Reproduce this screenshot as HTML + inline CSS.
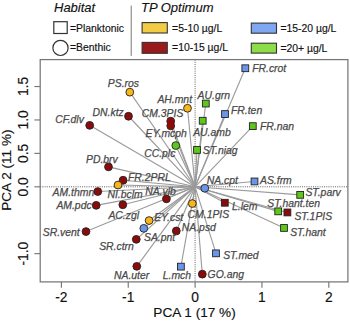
<!DOCTYPE html>
<html><head><meta charset="utf-8"><style>
html,body{margin:0;padding:0;background:#fff;}
body{width:350px;height:322px;overflow:hidden;}
svg{display:block;}
text{font-family:"Liberation Sans",sans-serif;}
.lb{font-size:10.4px;font-style:italic;fill:#4a4a4a;stroke:#4a4a4a;stroke-width:0.25px;}
.tk{font-size:13.8px;fill:#111;stroke:#111;stroke-width:0.15px;}
.tt{font-size:13.6px;fill:#111;stroke:#111;stroke-width:0.15px;}
.lh{font-size:13px;font-style:italic;fill:#111;stroke:#111;stroke-width:0.15px;}
.lt{font-size:10.4px;fill:#111;stroke:#111;stroke-width:0.15px;}
</style></head><body>
<svg width="350" height="322" viewBox="0 0 350 322">
<line x1="195.1" y1="59.6" x2="195.1" y2="281.9" stroke="#666" stroke-width="1" stroke-dasharray="1.05 1.15"/>
<line x1="40.2" y1="186.8" x2="347.9" y2="186.8" stroke="#666" stroke-width="1" stroke-dasharray="1.05 1.15"/>
<line x1="195.1" y1="186.8" x2="245.3" y2="68.25" stroke="#9a9a9a" stroke-width="1.1"/>
<line x1="195.1" y1="186.8" x2="205.8" y2="103.55" stroke="#9a9a9a" stroke-width="1.1"/>
<line x1="195.1" y1="186.8" x2="202.7" y2="120.75" stroke="#9a9a9a" stroke-width="1.1"/>
<line x1="195.1" y1="186.8" x2="225.0" y2="114.05" stroke="#9a9a9a" stroke-width="1.1"/>
<line x1="195.1" y1="186.8" x2="252.8" y2="126.15" stroke="#9a9a9a" stroke-width="1.1"/>
<line x1="195.1" y1="186.8" x2="197.0" y2="149.95" stroke="#9a9a9a" stroke-width="1.1"/>
<line x1="195.1" y1="186.8" x2="129.8" y2="92.15" stroke="#9a9a9a" stroke-width="1.1"/>
<line x1="195.1" y1="186.8" x2="187.5" y2="108.25" stroke="#9a9a9a" stroke-width="1.1"/>
<line x1="195.1" y1="186.8" x2="128.5" y2="116.25" stroke="#9a9a9a" stroke-width="1.1"/>
<line x1="195.1" y1="186.8" x2="89.7" y2="125.35" stroke="#9a9a9a" stroke-width="1.1"/>
<line x1="195.1" y1="186.8" x2="170.7" y2="121.15" stroke="#9a9a9a" stroke-width="1.1"/>
<line x1="195.1" y1="186.8" x2="170.7" y2="125.85" stroke="#9a9a9a" stroke-width="1.1"/>
<line x1="195.1" y1="186.8" x2="175.8" y2="145.55" stroke="#9a9a9a" stroke-width="1.1"/>
<line x1="195.1" y1="186.8" x2="108.5" y2="166.85" stroke="#9a9a9a" stroke-width="1.1"/>
<line x1="195.1" y1="186.8" x2="123.1" y2="180.25" stroke="#9a9a9a" stroke-width="1.1"/>
<line x1="195.1" y1="186.8" x2="118.0" y2="185.05" stroke="#9a9a9a" stroke-width="1.1"/>
<line x1="195.1" y1="186.8" x2="122.8" y2="204.75" stroke="#9a9a9a" stroke-width="1.1"/>
<line x1="195.1" y1="186.8" x2="97.8" y2="191.55" stroke="#9a9a9a" stroke-width="1.1"/>
<line x1="195.1" y1="186.8" x2="96.2" y2="205.35" stroke="#9a9a9a" stroke-width="1.1"/>
<line x1="195.1" y1="186.8" x2="166.4" y2="198.85" stroke="#9a9a9a" stroke-width="1.1"/>
<line x1="195.1" y1="186.8" x2="192.3" y2="203.55" stroke="#9a9a9a" stroke-width="1.1"/>
<line x1="195.1" y1="186.8" x2="149.1" y2="220.55" stroke="#9a9a9a" stroke-width="1.1"/>
<line x1="195.1" y1="186.8" x2="143.8" y2="228.35" stroke="#9a9a9a" stroke-width="1.1"/>
<line x1="195.1" y1="186.8" x2="136.3" y2="239.35" stroke="#9a9a9a" stroke-width="1.1"/>
<line x1="195.1" y1="186.8" x2="176.3" y2="230.95" stroke="#9a9a9a" stroke-width="1.1"/>
<line x1="195.1" y1="186.8" x2="86.0" y2="231.55" stroke="#9a9a9a" stroke-width="1.1"/>
<line x1="195.1" y1="186.8" x2="136.8" y2="266.35" stroke="#9a9a9a" stroke-width="1.1"/>
<line x1="195.1" y1="186.8" x2="180.9" y2="266.65" stroke="#9a9a9a" stroke-width="1.1"/>
<line x1="195.1" y1="186.8" x2="202.3" y2="274.15" stroke="#9a9a9a" stroke-width="1.1"/>
<line x1="195.1" y1="186.8" x2="216.0" y2="253.35" stroke="#9a9a9a" stroke-width="1.1"/>
<line x1="195.1" y1="186.8" x2="224.8" y2="202.75" stroke="#9a9a9a" stroke-width="1.1"/>
<line x1="195.1" y1="186.8" x2="204.8" y2="188.25" stroke="#9a9a9a" stroke-width="1.1"/>
<line x1="195.1" y1="186.8" x2="254.5" y2="181.45" stroke="#9a9a9a" stroke-width="1.1"/>
<line x1="195.1" y1="186.8" x2="300.2" y2="194.85" stroke="#9a9a9a" stroke-width="1.1"/>
<line x1="195.1" y1="186.8" x2="278.2" y2="211.35" stroke="#9a9a9a" stroke-width="1.1"/>
<line x1="195.1" y1="186.8" x2="287.4" y2="212.45" stroke="#9a9a9a" stroke-width="1.1"/>
<line x1="195.1" y1="186.8" x2="284.0" y2="227.95" stroke="#9a9a9a" stroke-width="1.1"/>
<rect x="241.90" y="64.85" width="6.8" height="6.8" fill="#6A95E8" stroke="#222" stroke-width="0.9"/>
<rect x="202.40" y="100.15" width="6.8" height="6.8" fill="#5CC81C" stroke="#222" stroke-width="0.9"/>
<rect x="199.30" y="117.35" width="6.8" height="6.8" fill="#5CC81C" stroke="#222" stroke-width="0.9"/>
<rect x="221.60" y="110.65" width="6.8" height="6.8" fill="#6A95E8" stroke="#222" stroke-width="0.9"/>
<rect x="249.40" y="122.75" width="6.8" height="6.8" fill="#5CC81C" stroke="#222" stroke-width="0.9"/>
<rect x="193.60" y="146.55" width="6.8" height="6.8" fill="#5CC81C" stroke="#222" stroke-width="0.9"/>
<circle cx="129.8" cy="92.14999999999999" r="3.9" fill="#F8B61A" stroke="#222" stroke-width="0.9"/>
<circle cx="187.5" cy="108.25" r="3.9" fill="#F8B61A" stroke="#222" stroke-width="0.9"/>
<circle cx="128.5" cy="116.25" r="3.9" fill="#8B0B0B" stroke="#222" stroke-width="0.9"/>
<circle cx="89.7" cy="125.35" r="3.9" fill="#8B0B0B" stroke="#222" stroke-width="0.9"/>
<circle cx="170.7" cy="121.14999999999999" r="3.9" fill="#8B0B0B" stroke="#222" stroke-width="0.9"/>
<circle cx="170.7" cy="125.85" r="3.9" fill="#8B0B0B" stroke="#222" stroke-width="0.9"/>
<circle cx="175.8" cy="145.54999999999998" r="3.9" fill="#5CC81C" stroke="#222" stroke-width="0.9"/>
<circle cx="108.5" cy="166.85" r="3.9" fill="#8B0B0B" stroke="#222" stroke-width="0.9"/>
<circle cx="123.1" cy="180.25" r="3.9" fill="#8B0B0B" stroke="#222" stroke-width="0.9"/>
<circle cx="118.0" cy="185.04999999999998" r="3.9" fill="#F8B61A" stroke="#222" stroke-width="0.9"/>
<circle cx="122.8" cy="204.75" r="3.9" fill="#8B0B0B" stroke="#222" stroke-width="0.9"/>
<circle cx="97.8" cy="191.54999999999998" r="3.9" fill="#8B0B0B" stroke="#222" stroke-width="0.9"/>
<circle cx="96.2" cy="205.35" r="3.9" fill="#8B0B0B" stroke="#222" stroke-width="0.9"/>
<circle cx="166.4" cy="198.85" r="3.9" fill="#8B0B0B" stroke="#222" stroke-width="0.9"/>
<circle cx="192.3" cy="203.54999999999998" r="3.9" fill="#F8B61A" stroke="#222" stroke-width="0.9"/>
<circle cx="149.1" cy="220.54999999999998" r="3.9" fill="#F8B61A" stroke="#222" stroke-width="0.9"/>
<circle cx="143.8" cy="228.35" r="3.9" fill="#6A95E8" stroke="#222" stroke-width="0.9"/>
<circle cx="136.3" cy="239.35" r="3.9" fill="#8B0B0B" stroke="#222" stroke-width="0.9"/>
<circle cx="176.3" cy="230.95" r="3.9" fill="#8B0B0B" stroke="#222" stroke-width="0.9"/>
<circle cx="86.0" cy="231.54999999999998" r="3.9" fill="#8B0B0B" stroke="#222" stroke-width="0.9"/>
<circle cx="136.8" cy="266.35" r="3.9" fill="#8B0B0B" stroke="#222" stroke-width="0.9"/>
<rect x="177.50" y="263.25" width="6.8" height="6.8" fill="#6A95E8" stroke="#222" stroke-width="0.9"/>
<circle cx="202.3" cy="274.15000000000003" r="3.9" fill="#8B0B0B" stroke="#222" stroke-width="0.9"/>
<rect x="212.60" y="249.95" width="6.8" height="6.8" fill="#6A95E8" stroke="#222" stroke-width="0.9"/>
<rect x="221.40" y="199.35" width="6.8" height="6.8" fill="#8B0B0B" stroke="#222" stroke-width="0.9"/>
<circle cx="204.8" cy="188.25" r="3.9" fill="#6A95E8" stroke="#222" stroke-width="0.9"/>
<rect x="251.10" y="178.05" width="6.8" height="6.8" fill="#6A95E8" stroke="#222" stroke-width="0.9"/>
<rect x="296.80" y="191.45" width="6.8" height="6.8" fill="#5CC81C" stroke="#222" stroke-width="0.9"/>
<rect x="274.80" y="207.95" width="6.8" height="6.8" fill="#5CC81C" stroke="#222" stroke-width="0.9"/>
<rect x="284.00" y="209.05" width="6.8" height="6.8" fill="#8B0B0B" stroke="#222" stroke-width="0.9"/>
<rect x="280.60" y="224.55" width="6.8" height="6.8" fill="#5CC81C" stroke="#222" stroke-width="0.9"/>
<circle cx="170.7" cy="121.15" r="3.45" fill="#8B0B0B"/>
<circle cx="170.7" cy="125.85" r="3.45" fill="#8B0B0B"/>
<text x="252.2" y="71.65" class="lb">FR.crot</text>
<text x="197.6" y="98.95" class="lb">AU.grn</text>
<text x="193.2" y="135.65" class="lb">AU.amb</text>
<text x="231.0" y="114.35" class="lb">FR.ten</text>
<text x="260.0" y="130.35" class="lb">FR.nan</text>
<text x="202.8" y="153.65" class="lb">ST.niag</text>
<text x="107.8" y="86.55" class="lb">PS.ros</text>
<text x="157.4" y="102.55" class="lb">AH.mnt</text>
<text x="92.6" y="115.85" class="lb">DN.ktz</text>
<text x="55.2" y="122.95" class="lb">CF.dlv</text>
<text x="141.8" y="116.55" class="lb">CM.3PIS</text>
<text x="145.6" y="137.35" class="lb">EY.mcph</text>
<text x="144.2" y="157.15" class="lb">CC.plc</text>
<text x="86.0" y="162.75" class="lb">PD.brv</text>
<text x="128.0" y="180.55" class="lb">FR.2PRL</text>
<text x="107.4" y="198.15" class="lb">NI.bclm</text>
<text x="108.4" y="218.55" class="lb">AC.zgl</text>
<text x="52.6" y="195.55" class="lb">AM.thmn</text>
<text x="56.4" y="209.25" class="lb">AM.pdc</text>
<text x="145.2" y="195.35" class="lb">NA.vlb</text>
<text x="187.6" y="218.25" class="lb">CM.1PIS</text>
<text x="154.2" y="221.25" class="lb">EY.cst</text>
<text x="144.0" y="241.25" class="lb">SA.pnt</text>
<text x="99.2" y="250.05" class="lb">SR.ctrn</text>
<text x="181.8" y="230.85" class="lb">NA.psd</text>
<text x="42.8" y="235.55" class="lb">SR.vent</text>
<text x="114.0" y="278.95" class="lb">NA.uter</text>
<text x="162.8" y="279.45" class="lb">L.mch</text>
<text x="207.6" y="278.25" class="lb">GO.ang</text>
<text x="223.2" y="258.55" class="lb">ST.med</text>
<text x="232.0" y="209.95" class="lb">L.lem</text>
<text x="206.8" y="184.35" class="lb">NA.cpt</text>
<text x="260.0" y="184.35" class="lb">AS.frm</text>
<text x="305.4" y="196.35" class="lb">ST.parv</text>
<text x="267.3" y="206.95" class="lb">ST.hant.ten</text>
<text x="294.4" y="219.95" class="lb">ST.1PIS</text>
<text x="290.2" y="236.25" class="lb">ST.hant</text>
<rect x="40.2" y="59.6" width="307.70" height="222.30" fill="none" stroke="#777" stroke-width="1.25"/>
<line x1="61.40" y1="281.9" x2="61.40" y2="287.7" stroke="#777" stroke-width="1.15"/>
<text x="61.40" y="301.6" class="tk" text-anchor="middle">-2</text>
<line x1="128.25" y1="281.9" x2="128.25" y2="287.7" stroke="#777" stroke-width="1.15"/>
<text x="128.25" y="301.6" class="tk" text-anchor="middle">-1</text>
<line x1="195.10" y1="281.9" x2="195.10" y2="287.7" stroke="#777" stroke-width="1.15"/>
<text x="195.10" y="301.6" class="tk" text-anchor="middle">0</text>
<line x1="261.95" y1="281.9" x2="261.95" y2="287.7" stroke="#777" stroke-width="1.15"/>
<text x="261.95" y="301.6" class="tk" text-anchor="middle">1</text>
<line x1="328.80" y1="281.9" x2="328.80" y2="287.7" stroke="#777" stroke-width="1.15"/>
<text x="328.80" y="301.6" class="tk" text-anchor="middle">2</text>
<line x1="40.2" y1="86.53" x2="34.400000000000006" y2="86.53" stroke="#777" stroke-width="1.15"/>
<text x="0" y="0" class="tk" text-anchor="middle" transform="translate(28,86.53) rotate(-90)">1.5</text>
<line x1="40.2" y1="119.95" x2="34.400000000000006" y2="119.95" stroke="#777" stroke-width="1.15"/>
<text x="0" y="0" class="tk" text-anchor="middle" transform="translate(28,119.95) rotate(-90)">1.0</text>
<line x1="40.2" y1="153.38" x2="34.400000000000006" y2="153.38" stroke="#777" stroke-width="1.15"/>
<text x="0" y="0" class="tk" text-anchor="middle" transform="translate(28,153.38) rotate(-90)">0.5</text>
<line x1="40.2" y1="186.80" x2="34.400000000000006" y2="186.80" stroke="#777" stroke-width="1.15"/>
<text x="0" y="0" class="tk" text-anchor="middle" transform="translate(28,186.80) rotate(-90)">0.0</text>
<line x1="40.2" y1="253.65" x2="34.400000000000006" y2="253.65" stroke="#777" stroke-width="1.15"/>
<text x="0" y="0" class="tk" text-anchor="middle" transform="translate(28,253.65) rotate(-90)">-1.0</text>
<text x="194.5" y="317.3" class="tt" text-anchor="middle">PCA 1 (17 %)</text>
<text x="0" y="0" class="tt" text-anchor="middle" transform="translate(11.2,170.1) rotate(-90)">PCA 2 (11 %)</text>
<text x="54" y="12.1" class="lh">Habitat</text>
<rect x="53.8" y="21.7" width="13.4" height="11.8" fill="none" stroke="#333" stroke-width="1.2"/>
<text x="70" y="31.7" class="lt">=Planktonic</text>
<circle cx="60.5" cy="47.9" r="7.6" fill="none" stroke="#333" stroke-width="1.2"/>
<text x="70" y="50.9" class="lt">=Benthic</text>
<line x1="131.2" y1="5.6" x2="131.2" y2="55.9" stroke="#777" stroke-width="1"/>
<text x="141" y="11.6" class="lh">TP Optimum</text>
<rect x="142.1" y="22.6" width="25.2" height="10.4" fill="#F3CC45" stroke="#333" stroke-width="1.1"/>
<text x="172.1" y="31.7" class="lt">=5-10 µg/L</text>
<rect x="142.1" y="42.4" width="25.2" height="10.9" fill="#991A1A" stroke="#333" stroke-width="1.1"/>
<text x="172.1" y="51.3" class="lt">=10-15 µg/L</text>
<rect x="251.3" y="23.1" width="25.2" height="10.1" fill="#7FA8F0" stroke="#333" stroke-width="1.1"/>
<text x="280.4" y="31.8" class="lt">=15-20 µg/L</text>
<rect x="251.3" y="43.2" width="25.2" height="9.9" fill="#8DDC48" stroke="#333" stroke-width="1.1"/>
<text x="280.4" y="51.6" class="lt">=20+ µg/L</text>
</svg>
</body></html>
